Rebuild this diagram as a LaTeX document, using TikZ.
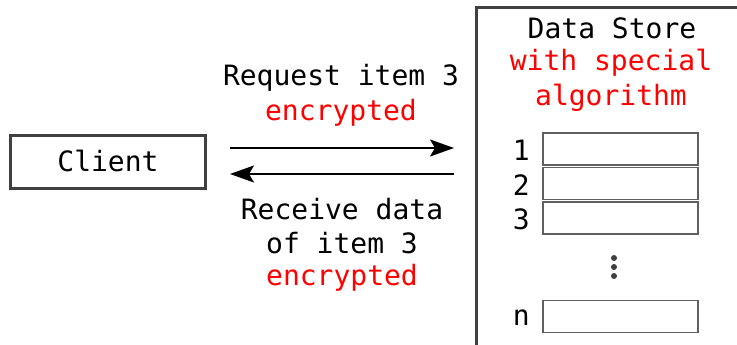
\documentclass[tikz,border=0pt]{standalone}
\usepackage{fontspec}
\newfontfamily\dmono{DejaVu Sans Mono}
\usetikzlibrary{arrows.meta}
\definecolor{boxgray}{HTML}{404040}
\definecolor{slotgray}{HTML}{606060}
\begin{document}
\begin{tikzpicture}[x=1pt,y=-1pt,
  txt/.style={font=\dmono\fontsize{28}{35}\selectfont, align=center, inner sep=0pt},
  red/.style={text=red},
  bigbox/.style={draw=boxgray, line width=3pt},
  slot/.style={draw=slotgray, line width=1.2pt, minimum width=155pt, minimum height=32pt, inner sep=0pt},
  flow/.style={line width=2pt, -{Stealth[length=24pt,width=17pt,inset=5pt]}}]
\useasboundingbox (0,0) rectangle (737,345);
% client
\node[bigbox, minimum width=195pt, minimum height=53pt, inner sep=0pt] (client) at (107.5,161.5) {};
\node[txt] (clientlbl) at (108,161) {Client};
% data store
\draw[bigbox] (737,8) -- (476,8) -- (476,345);
\node[txt] (ds1) at (612,28) {Data Store};
\node[txt, red] (ds2) at (611,63) {with special};
\node[txt, red] (ds3) at (611,98) {algorithm};
\node[slot] (s1) at (620.5,149) {};
\node[slot] (s2) at (620.5,183.5) {};
\node[slot] (s3) at (620.5,218) {};
\node[slot] (sn) at (620.5,316.5) {};
\node[txt, anchor=east] (l1) at (530,150) {1};
\node[txt, anchor=east] (l2) at (530,185) {2};
\node[txt, anchor=east] (l3) at (530,219) {3};
\node[txt, anchor=east] (ln) at (530,318) {n};
\foreach \yy in {258,267,276} \fill[boxgray] (614,\yy) circle (3pt);
% arrows
\coordinate (a1s) at (230,148);
\coordinate (a1e) at (454,148);
\coordinate (a2s) at (454,174);
\coordinate (a2e) at (230,174);
\draw[flow] (a1s) -- (a1e);
\draw[flow] (a2s) -- (a2e);
\node[txt] (rq1) at (341,78) {Request item 3};
\node[txt, red] (rq2) at (341,113) {encrypted};
\node[txt] (rc1) at (342,209) {Receive data};
\node[txt] (rc2) at (342,243) {of item 3};
\node[txt, red] (rc3) at (342,278) {encrypted};
\end{tikzpicture}
\end{document}
